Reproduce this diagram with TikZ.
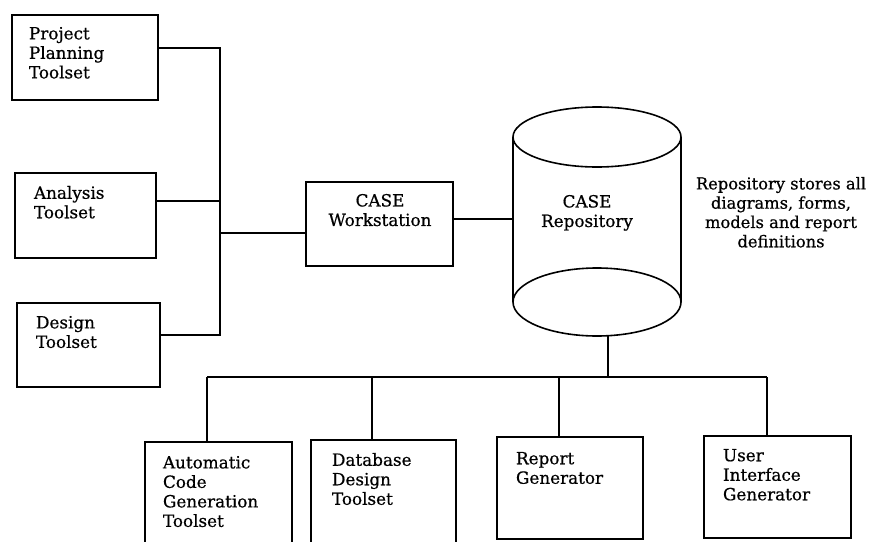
\documentclass[tikz,border=0pt]{standalone}
\usepackage{fontspec}
\setmainfont{DejaVu Serif}
\newfontfamily\diagfont{DejaVu Serif}[FakeBold=0.6]
\begin{document}
\begin{tikzpicture}[x=1pt,y=-1pt,
  box/.style={draw=black, line width=1.6pt, rectangle, inner sep=0pt, outer sep=0pt},
  txt/.style={inner sep=0pt, outer sep=0pt, font=\diagfont\fontsize{16.8}{19.5}\selectfont},
  ltxt/.style={txt, align=left, anchor=north west},
  ctxt/.style={txt, align=center, anchor=north},
  link/.style={draw=black, line width=1.6pt},
  shp/.style={draw=black, line width=1.6pt}]
\useasboundingbox (0,0) rectangle (869,541);
\clip (0,0) rectangle (869,541);
\fill[white] (0,0) rectangle (869,541);

% left tool boxes
\node[box, minimum width=146, minimum height=85] (pp) at (85,57.5) {};
\node[box, minimum width=141, minimum height=85] (an) at (85.5,215.5) {};
\node[box, minimum width=143, minimum height=84] (de) at (88.5,345) {};
\node[ltxt] (ppt) at (29,27) {Project\\Planning\\Toolset};
\node[ltxt] (ant) at (34,186) {Analysis\\Toolset};
\node[ltxt] (det) at (36,316) {Design\\Toolset};

% workstation
\node[box, minimum width=147, minimum height=84] (ws) at (379.5,224) {};
\node[ctxt] (wst) at (380,194) {CASE\\Workstation};

% repository cylinder
\node[inner sep=0pt, outer sep=0pt, minimum width=168, minimum height=229] (repo) at (597,221.5) {};
\draw[shp] (597,137) ellipse [x radius=84, y radius=30];
\draw[shp] (597,302) ellipse [x radius=84, y radius=34];
\draw[shp] (513,137) -- (513,302);
\draw[shp] (681,137) -- (681,302);
\node[ctxt] (repot) at (587,195) {CASE\\Repository};

% note
\node[ctxt, font=\diagfont\fontsize{16.3}{19.3}\selectfont] (note) at (781,177) {Repository stores all\\diagrams, forms,\\models and report\\definitions};

% bottom boxes
\node[box, minimum width=147, minimum height=105] (ac) at (218.5,494.5) {};
\node[box, minimum width=145, minimum height=105] (db) at (383.5,492.5) {};
\node[box, minimum width=146, minimum height=102] (rg) at (570,488) {};
\node[box, minimum width=147, minimum height=102] (ui) at (777.5,487) {};
\node[ltxt] (act) at (163,456) {Automatic\\Code\\Generation\\Toolset};
\node[ltxt] (dbt) at (332,453) {Database\\Design\\Toolset};
\node[ltxt] (rgt) at (516,452) {Report\\Generator};
\node[ltxt] (uit) at (723,449) {User\\Interface\\Generator};

% left bus
\coordinate (lbtop) at (220,48);
\coordinate (lbbot) at (220,335);
\coordinate (lbws) at (220,233);
\draw[link] ([yshift=9.5]pp.east) -- (lbtop) -- (lbbot) -- ([yshift=10]de.east);
\draw[link] ([yshift=14.5]an.east) -- ([yshift=14.5]an.east -| lbtop);
\draw[link] (lbws) -- (ws.west |- lbws);
\draw[link] ([yshift=5]ws.east) -- ([yshift=5]ws.east -| repo.west);

% bottom bus
\coordinate (bbl) at (207,377);
\coordinate (bbr) at (767,377);
\coordinate (bbrep) at (608,377);
\draw[link] ([xshift=11]repo.south) -- (bbrep);
\draw[link] (bbl) -- (bbr);
\draw[link] (bbl) -- (bbl |- ac.north);
\draw[link] ([xshift=-11.5]db.north) -- ([xshift=-11.5]db.north |- bbl);
\draw[link] ([xshift=-11]rg.north) -- ([xshift=-11]rg.north |- bbl);
\draw[link] (bbr) -- (bbr |- ui.north);
\end{tikzpicture}
\end{document}
